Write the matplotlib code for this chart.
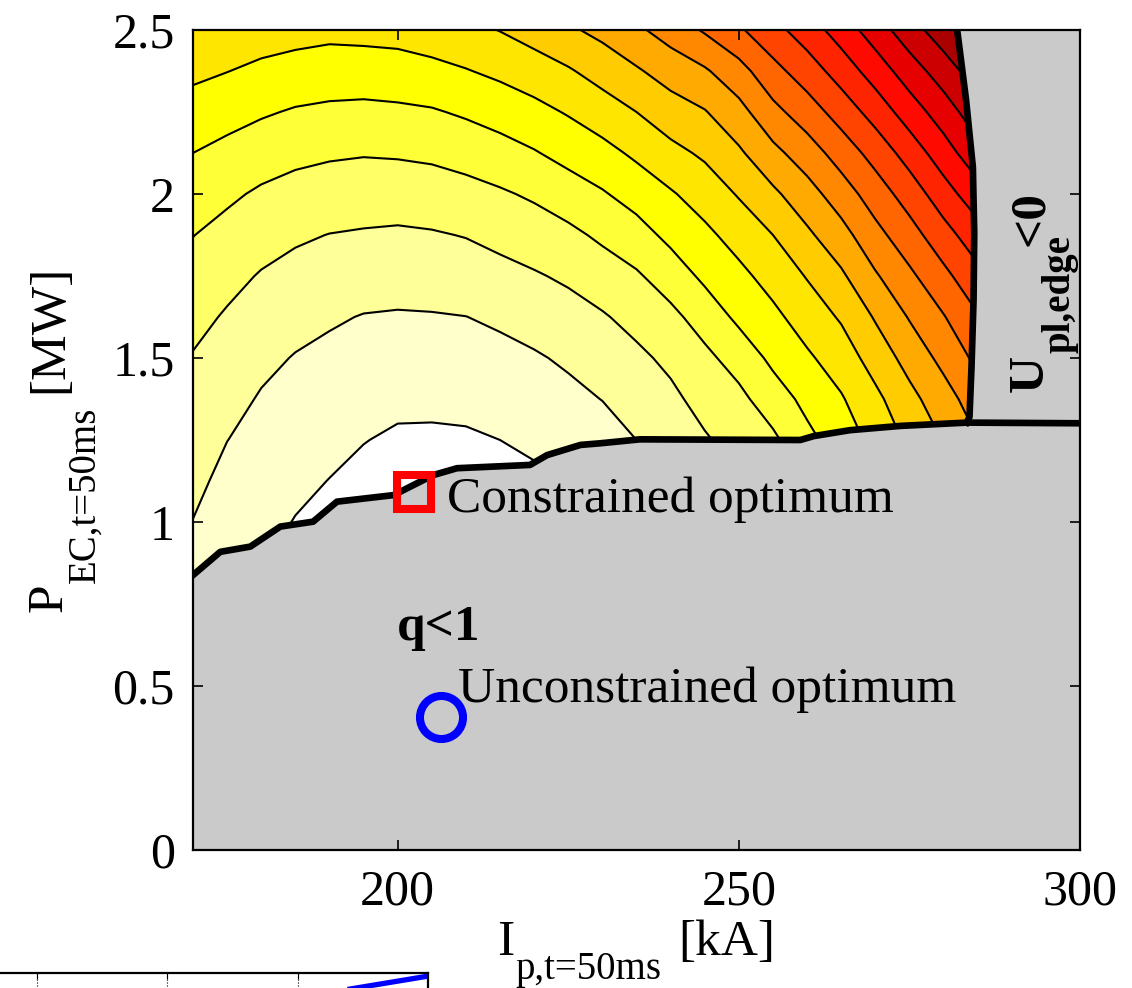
import numpy as np
import matplotlib
matplotlib.use("Agg")
import matplotlib.pyplot as plt

# cost map (one list per I_p column, P_EC rising)
ip = [170, 175, 180, 185, 190, 195, 200, 205, 210, 215, 220, 225, 230, 235, 240, 245,
      250, 255, 260, 265, 270, 275, 280, 290, 300]
pec = [0.75, 0.875, 1.0, 1.125, 1.25, 1.375, 1.5, 1.625, 1.75, 1.875, 2.0, 2.125, 2.25, 2.375, 2.5]
cost_cols = [
    [1.16, 1.57, 1.98, 2.23, 2.47, 2.70, 2.94, 3.28, 3.65, 4.02, 4.51, 5.00, 5.62, 6.20, 6.70],
    [1.00, 1.25, 1.50, 1.75, 2.01, 2.31, 2.61, 2.90, 3.28, 3.70, 4.17, 4.73, 5.35, 6.02, 6.58],
    [0.88, 1.09, 1.30, 1.51, 1.71, 1.92, 2.22, 2.57, 2.93, 3.38, 3.86, 4.46, 5.11, 5.80, 6.45],
    [0.60, 0.78, 0.96, 1.21, 1.46, 1.70, 1.95, 2.31, 2.71, 3.13, 3.66, 4.24, 4.91, 5.63, 6.35],
    [0.40, 0.55, 0.72, 0.98, 1.25, 1.52, 1.79, 2.11, 2.55, 2.98, 3.54, 4.12, 4.81, 5.53, 6.25],
    [0.20, 0.33, 0.50, 0.75, 1.03, 1.34, 1.65, 1.96, 2.43, 2.91, 3.47, 4.06, 4.76, 5.53, 6.30],
    [0.10, 0.20, 0.35, 0.55, 0.86, 1.21, 1.56, 1.92, 2.37, 2.86, 3.45, 4.10, 4.82, 5.59, 6.35],
    [0.08, 0.18, 0.33, 0.55, 0.85, 1.20, 1.57, 1.94, 2.42, 2.92, 3.53, 4.18, 4.91, 5.74, 6.52],
    [0.10, 0.20, 0.38, 0.58, 0.88, 1.24, 1.62, 1.99, 2.51, 3.04, 3.67, 4.37, 5.13, 5.95, 6.74],
    [0.15, 0.27, 0.45, 0.68, 1.00, 1.37, 1.74, 2.15, 2.70, 3.27, 3.88, 4.62, 5.40, 6.21, 7.03],
    [0.20, 0.35, 0.55, 0.80, 1.20, 1.55, 1.90, 2.38, 2.91, 3.50, 4.14, 4.93, 5.71, 6.52, 7.42],
    [0.30, 0.47, 0.70, 1.05, 1.41, 1.76, 2.14, 2.63, 3.15, 3.77, 4.52, 5.32, 6.08, 6.90, 7.85],
    [0.40, 0.60, 0.85, 1.20, 1.60, 2.02, 2.46, 2.91, 3.51, 4.18, 4.91, 5.69, 6.52, 7.39, 8.27],
    [0.60, 0.80, 1.15, 1.55, 2.00, 2.40, 2.80, 3.30, 3.88, 4.61, 5.39, 6.18, 7.00, 7.89, 8.82],
    [0.90, 1.20, 1.55, 2.00, 2.45, 2.79, 3.21, 3.75, 4.47, 5.25, 5.90, 6.72, 7.55, 8.42, 9.43],
    [1.20, 1.55, 1.95, 2.40, 2.90, 3.33, 3.77, 4.42, 5.20, 5.78, 6.44, 7.16, 7.94, 8.88, 10.11],
    [1.50, 1.95, 2.40, 2.85, 3.35, 3.75, 4.40, 5.21, 5.75, 6.38, 7.08, 7.85, 8.67, 9.63, 10.86],
    [2.00, 2.40, 2.85, 3.30, 3.80, 4.53, 5.22, 5.77, 6.37, 7.00, 7.81, 8.73, 9.71, 10.69, 11.67],
    [2.60, 3.10, 3.60, 4.10, 4.75, 5.26, 5.85, 6.45, 7.06, 7.82, 8.60, 9.51, 10.52, 11.50, 12.50],
    [3.55, 4.05, 4.55, 5.00, 5.45, 5.91, 6.48, 7.11, 7.84, 8.64, 9.51, 10.44, 11.42, 12.44, 13.46],
    [4.30, 4.80, 5.30, 5.75, 6.30, 6.76, 7.42, 8.09, 8.89, 9.69, 10.49, 11.37, 12.40, 13.46, 14.50],
    [5.40, 5.85, 6.30, 6.75, 7.20, 7.71, 8.36, 9.07, 9.80, 10.60, 11.45, 12.42, 13.49, 14.51, 15.58],
    [6.50, 7.00, 7.40, 7.75, 8.05, 8.58, 9.28, 9.94, 10.74, 11.61, 12.56, 13.55, 14.50, 15.50, 16.55],
    [8.80, 9.30, 9.60, 9.85, 9.90, 10.50, 11.20, 11.90, 12.70, 13.60, 14.70, 15.80, 16.70, 17.60, 18.70],
    [11.10, 11.60, 11.80, 11.95, 11.70, 12.40, 13.10, 13.80, 14.60, 15.60, 16.90, 18.10, 18.90, 19.70, 20.90],
]

# q<1 limit (lower boundary) and U_pl,edge<0 limit (right boundary)
q_ip = [170.0, 174.0, 178.4, 182.8, 187.6, 191.1, 199.4, 205.2, 208.7, 219.4, 221.9, 226.8, 229.7,
        235.5, 259.0, 261.0, 266.3, 273.7, 283.4, 300.0]
q_pec = [0.838, 0.909, 0.925, 0.986, 1.001, 1.062, 1.082, 1.143, 1.164, 1.174, 1.204, 1.235, 1.240,
         1.252, 1.250, 1.262, 1.280, 1.293, 1.303, 1.301]
u_ip = [283.4, 283.8, 284.1, 284.4, 284.5, 284.3, 283.3, 282.0]
u_pec = [1.303, 1.320, 1.473, 1.677, 1.881, 2.082, 2.287, 2.5]

con_opt = (202.4, 1.091)
unc_opt = (206.4, 0.405)

# piece of the next panel showing at the bottom
frag_t = [3.0, 4.0]
frag_v = [0.876, 0.985]

band_colors = ['#ffffff', '#ffffcc', '#ffff99', '#ffff66', '#ffff38', '#ffff00', '#ffe600',
               '#ffcc00', '#ffaa00', '#ff8800', '#ff6600', '#ff4400', '#ff2400', '#ff0a00',
               '#e60000', '#cc0000', '#aa0000']
levels = np.arange(0, 18)
gray = '#cacaca'

plt.rcParams['font.family'] = ['Liberation Serif', 'DejaVu Serif']

W, H = 1132, 988
fig = plt.figure(figsize=(W / 100, H / 100), dpi=100)
ax = fig.add_axes([193 / W, 138 / H, 887 / W, 820 / H])

cost = np.array(cost_cols).T
ax.contourf(ip, pec, cost, levels=levels, colors=band_colors, zorder=0.5)
ax.contour(ip, pec, cost, levels=levels[1:-1], colors='k', linewidths=1.5, zorder=1)

ax.fill_between(q_ip, 0, q_pec, color=gray, lw=0, zorder=1.5)
ax.fill(u_ip + [300, 300], u_pec + [2.5, q_pec[-1]], color=gray, lw=0, zorder=1.5)
ax.plot(q_ip, q_pec, color='k', lw=4.8, zorder=2)
ax.plot(u_ip, u_pec, color='k', lw=4.8, zorder=2)

ax.plot(*con_opt, marker='s', ms=25, mfc='none', mec='#ff0000', mew=5.8, zorder=2.2)
ax.plot(*unc_opt, marker='o', ms=31, mfc='none', mec='#0000ff', mew=5.8, zorder=2.2)

ax.text(207.2, 1.030, 'Constrained optimum', fontsize=37, zorder=3)
ax.text(208.85, 0.451, 'Unconstrained optimum', fontsize=37, zorder=3)
ax.text(199.9, 0.640, 'q<1', fontsize=37, fontweight='bold', zorder=3)

# U_pl,edge<0 written upwards
kw = dict(rotation=90, rotation_mode='anchor', ha='left', va='baseline',
          fontweight='bold', zorder=3)
ax.text(294.6, 1.396, 'U', fontsize=37, **kw)
ax.text(298.4, 1.515, 'pl,edge', fontsize=28, **kw)
ax.text(294.6, 1.84, '<0', fontsize=37, **kw)

ax.set_xlim(170, 300)
ax.set_ylim(0, 2.5)
ax.set_xticks([200, 250, 300])
ax.set_yticks([0, 0.5, 1, 1.5, 2, 2.5])
ax.set_yticklabels(['0', '0.5', '1', '1.5', '2', '2.5'])
ax.set_axisbelow(False)
ax.tick_params(direction='in', length=7, width=1.2, top=True, right=True, labelsize=36)
ax.tick_params(axis='x', pad=14)
ax.tick_params(axis='y', pad=13)
for s in ax.spines.values():
    s.set_linewidth(1.6)
    s.set_zorder(3)

# axis labels built from pieces (main text + large subscript)
fig.text(497 / W, 1 - 955 / H, 'I', fontsize=37, ha='left', va='baseline')
fig.text(515 / W, 1 - 979 / H, 'p,t=50ms', fontsize=28, ha='left', va='baseline')
fig.text(678 / W, 1 - 955 / H, '[kA]', fontsize=37, ha='left', va='baseline')

ykw = dict(rotation=90, rotation_mode='anchor', va='baseline')
fig.text(62 / W, 1 - 612 / H, 'P', fontsize=37, ha='left', **ykw)
fig.text(95 / W, 1 - 583 / H, 'EC,t=50ms', fontsize=28, ha='left', **ykw)
fig.text(62 / W, 1 - 265 / H, '[MW]', fontsize=37, ha='right', **ykw)

# top corner of the panel underneath
ax2 = fig.add_axes([-0.1, -0.185, 0.478, 0.2])
ax2.plot(frag_t, frag_v, color='#0000ff', lw=3.8)
ax2.set_xlim(-0.154, 4.0)
ax2.set_ylim(0, 1)
ax2.set_xticks([1, 2, 3])
ax2.set_yticks([])
ax2.grid(axis='x', linestyle=':', color='k', lw=0.8)
ax2.tick_params(direction='in', length=4, top=True, bottom=False, labelbottom=False)
for s in ax2.spines.values():
    s.set_linewidth(1.6)

fig.savefig('out.png', dpi=100)
